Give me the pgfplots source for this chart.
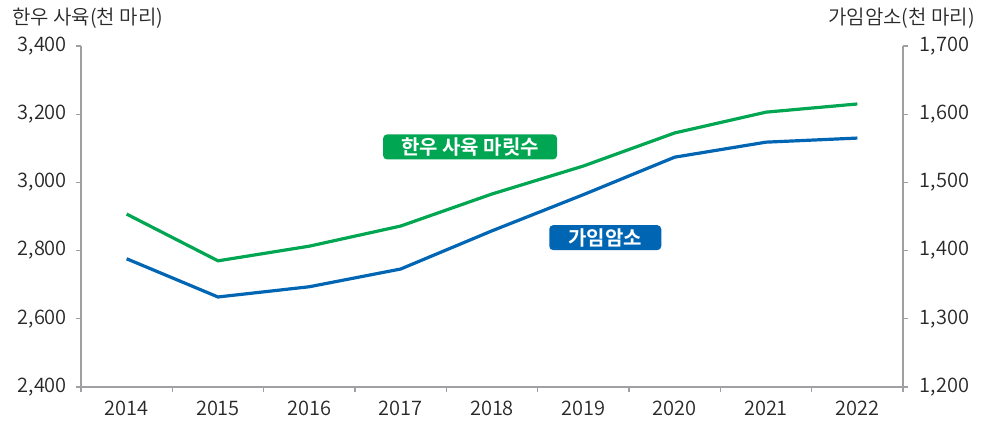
\documentclass[border=0pt]{standalone}
\usepackage{fontspec}
\setmainfont{Noto Sans CJK KR DemiLight}
\newfontfamily\boldfont{Noto Sans CJK KR Bold}
\usepackage{pgfplots}
\pgfplotsset{compat=1.18}
\definecolor{hgreen}{RGB}{0,166,81}
\definecolor{hblue}{RGB}{0,102,179}
\definecolor{axgray}{RGB}{160,160,164}
\definecolor{txt}{RGB}{40,40,40}
\begin{document}
\begin{tikzpicture}[x=1pt,y=1pt]
\useasboundingbox (-60.75,-25.5) rectangle (681.75,290.25);
\pgfplotsset{common/.style={
  scale only axis, width=616.5pt, height=255.75pt,
  xmin=-0.5, xmax=8.5, at={(0,0)}, anchor=south west,
  axis line style={axgray, line width=1.2pt},
  tick style={axgray, line width=1pt},
  tick align=outside, major tick length=4pt, minor tick length=4pt,
  tick label style={font=\fontsize{15}{17}\selectfont, text=txt},
  /pgf/number format/assume math mode=true,
  /pgf/number format/1000 sep={,},
  scaled y ticks=false, clip=false}}
\begin{axis}[common,
  ymin=2400, ymax=3400, ytick={2400,2600,...,3400},
  axis x line*=bottom, axis y line*=left,
  xtick={0,...,8}, xticklabels={2014,2015,2016,2017,2018,2019,2020,2021,2022},
  major x tick style={draw=none},
  minor xtick={-0.5,0.5,...,8.5},
  yticklabel style={xshift=-3pt},
  xticklabel style={yshift=-3pt},
  ]
\addplot[hgreen, line width=2.4pt, no markers] coordinates {
(0,2907) (1,2770) (2,2813) (3,2872) (4,2966) (5,3048) (6,3145) (7,3206) (8,3230)};
\node[fill=hgreen, rounded corners=3pt, text=white, font=\fontsize{15}{17}\selectfont\boldfont,
  minimum width=130.5pt, minimum height=18.75pt, inner sep=0pt] at (axis cs:3.76,3104) {한우 사육 마릿수};
\end{axis}
\begin{axis}[common,
  ymin=1200, ymax=1700, ytick={1200,1300,...,1700},
  axis y line*=right, axis x line=none,
  yticklabel style={xshift=5pt},
  ]
\addplot[hblue, line width=2.4pt, no markers] coordinates {
(0,1388) (1,1332) (2,1347) (3,1373) (4,1429) (5,1482) (6,1537) (7,1559) (8,1565)};
\node[fill=hblue, rounded corners=3pt, text=white, font=\fontsize{15}{17}\selectfont\boldfont,
  minimum width=84pt, minimum height=18.75pt, inner sep=0pt] at (axis cs:5.24,1419) {가임암소};
\end{axis}
\node[anchor=west, font=\fontsize{15}{17}\selectfont, text=txt, inner sep=0pt] at (-51.75,276.75) {한우 사육(천 마리)};
\node[anchor=east, font=\fontsize{15}{17}\selectfont, text=txt, inner sep=0pt] at (670.5,276.75) {가임암소(천 마리)};
\end{tikzpicture}
\end{document}
